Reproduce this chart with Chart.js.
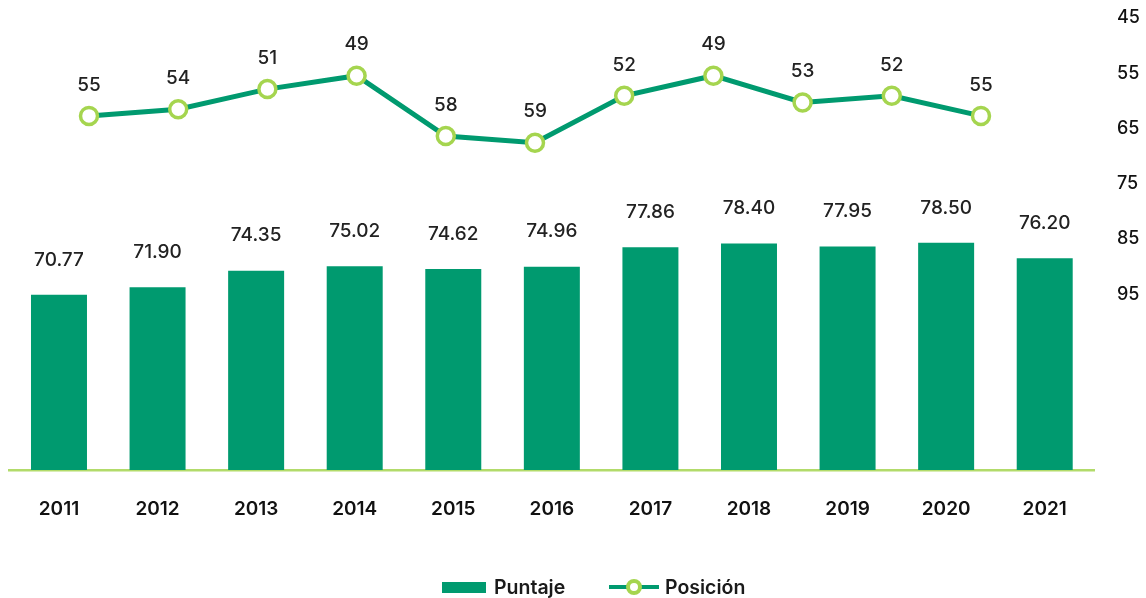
<!DOCTYPE html>
<html>
<head>
<meta charset="utf-8">
<script src="https://cdn.jsdelivr.net/npm/chart.js@4/dist/chart.umd.min.js"></script>
<style>
  html, body { margin: 0; padding: 0; background: #fff; }
  #wrap { position: relative; width: 1146px; height: 598px; font-family: Inter, "Noto Sans", sans-serif; }
  #c { position: absolute; left: 0; top: 0; }
  .lg { position: absolute; top: 574px; height: 26px; display: flex; align-items: center; font-size: 19.5px; font-weight: 600; color: #1a1a1a; }
  .box { width: 44px; height: 11px; background: #009a6f; margin-right: 8px; }
  .lineKey { position: relative; width: 50px; height: 4px; background: #009a6f; margin-right: 6px; }
  .lineKey span { position: absolute; left: 17px; top: -6px; width: 8px; height: 8px; border: 4px solid #a5d54f; border-radius: 50%; background: #fff; }
</style>
</head>
<body>
<div id="wrap">
  <canvas id="c" width="1146" height="598"></canvas>
  <div class="lg" style="left:442px;"><div class="box"></div>Puntaje</div>
  <div class="lg" style="left:609px;"><div class="lineKey"><span></span></div>Posición</div>
</div>
<script>
const years = ['2011','2012','2013','2014','2015','2016','2017','2018','2019','2020','2021'];
const puntaje = [70.77, 71.90, 74.35, 75.02, 74.62, 74.96, 77.86, 78.40, 77.95, 78.50, 76.20];
const posicion = [55, 54, 51, 49, 58, 59, 52, 49, 53, 52, 55];
const rightTicks = [45, 55, 65, 75, 85, 95];

const GREEN = '#009a6f';
const LIME = '#a5d54f';

const valueLabels = {
  id: 'valueLabels',
  afterDatasetsDraw(chart) {
    const ctx = chart.ctx;
    ctx.save();
    ctx.font = '500 19px Inter';
    ctx.fillStyle = '#222';
    ctx.textAlign = 'center';
    ctx.textBaseline = 'middle';
    chart.data.datasets.forEach((ds, di) => {
      const meta = chart.getDatasetMeta(di);
      meta.data.forEach((el, i) => {
        if (ds.type === 'line') {
          ctx.fillText(String(posicion[i]), el.x, el.y - 31);
        } else {
          ctx.fillText(puntaje[i].toFixed(2), el.x, el.y - 35);
        }
      });
    });
    ctx.restore();
  }
};

new Chart(document.getElementById('c'), {
  data: {
    labels: years,
    datasets: [
      {
        type: 'line',
        label: 'Posición',
        data: posicion.map((v, i) => ({ x: i, y: v })),
        xAxisID: 'x2',
        yAxisID: 'y1',
        borderColor: GREEN,
        borderWidth: 5,
        pointRadius: 8.5,
        pointBorderWidth: 3.5,
        pointBorderColor: LIME,
        pointBackgroundColor: '#fff',
        tension: 0,
        order: 0
      },
      {
        type: 'bar',
        label: 'Puntaje',
        data: puntaje,
        xAxisID: 'x',
        yAxisID: 'y',
        backgroundColor: GREEN,
        grouped: false,
        barPercentage: 0.568,
        categoryPercentage: 1,
        order: 1
      }
    ]
  },
  options: {
    responsive: false,
    animation: false,
    devicePixelRatio: 1,
    layout: { autoPadding: false, padding: { left: 9.7, top: 18, right: 0, bottom: 78 } },
    plugins: { legend: { display: false }, tooltip: { enabled: false } },
    scales: {
      x: {
        type: 'category',
        grid: { display: false, drawTicks: false },
        border: { display: true, color: '#b2db6a', width: 2.5 },
        ticks: { font: { family: 'Inter', size: 19, weight: '600' }, color: '#111', padding: 28 },
        afterFit: (ax) => { ax.paddingLeft = 0; ax.paddingRight = 0; ax.height = 50; }
      },
      x2: {
        type: 'linear',
        display: false,
        min: -0.889,
        max: 11.267
      },
      y: {
        type: 'linear',
        display: false,
        min: 44.75,
        max: 111.9
      },
      y1: {
        type: 'linear',
        display: false,
        reverse: true,
        min: 40.39,
        max: 107.85
      },
      y2: {
        type: 'linear',
        position: 'right',
        reverse: true,
        min: 45,
        max: 126.8,
        grid: { display: false, drawTicks: false },
        border: { display: false },
        afterBuildTicks: (ax) => { ax.ticks = rightTicks.map(v => ({ value: v })); },
        afterFit: (ax) => { ax.width = 52; ax.paddingTop = 0; ax.paddingBottom = 0; },
        ticks: { font: { family: 'Inter', size: 18, weight: '500' }, color: '#111', padding: 23 }
      }
    }
  },
  plugins: [valueLabels]
});
</script>
</body>
</html>
